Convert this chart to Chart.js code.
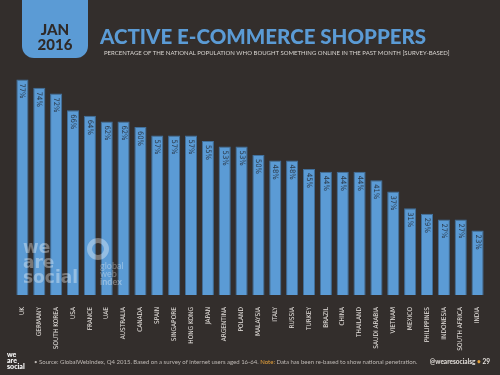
<!DOCTYPE html>
<html>
<head>
<meta charset="utf-8">
<script src="https://cdn.jsdelivr.net/npm/chart.js@4"></script>
<style>
  body { margin: 0; background: #332e2c; }
  #wrap { position: relative; width: 500px; height: 375px; overflow: hidden; background: #332e2c; font-family: "Lato", "DejaVu Sans", sans-serif; }
  #myChart { position: absolute; left: 0; top: 0; }
  .tab { position: absolute; left: 22px; top: -12px; width: 66px; height: 70px; background: #5b9bd5; border-radius: 0 0 12px 12px; }
  .tab div { position: absolute; width: 66px; text-align: center; color: #2f2a28; font-weight: 900; font-size: 15px; line-height: 14px; }
  .title { position: absolute; left: 100px; top: 24px; color: #5b9bd5; font-weight: 900; font-size: 20.5px; letter-spacing: 0; }
  .sub { position: absolute; left: 104px; top: 49px; color: #d8d4d0; font-size: 6px; letter-spacing: 0; }
  .wm { position: absolute; left: 23px; top: 240px; color: rgba(255,255,255,0.35); font-weight: 900; font-size: 17px; line-height: 15px; font-family: "DejaVu Sans", sans-serif; }
  .wm2 { position: absolute; left: 100px; top: 262px; color: rgba(255,255,255,0.35); font-size: 9px; line-height: 8px; }
  .dot { position: absolute; left: 87px; top: 238px; width: 12px; height: 12px; border-radius: 50%; border: 5px solid rgba(255,255,255,0.35); }
  .logo { position: absolute; left: 7px; top: 351px; color: #fff; font-weight: 900; font-size: 7px; line-height: 6px; }
  .src { position: absolute; left: 34px; top: 358px; color: #bdb8b4; font-size: 6px; }
  .src b { color: #e8a33a; font-weight: normal; }
  .page { position: absolute; right: 10px; top: 358px; color: #e6e2de; font-size: 6.5px; font-weight: bold; }
  .page span { color: #e8a33a; }
</style>
</head>
<body>
<div id="wrap">
  <canvas id="myChart" width="500" height="375"></canvas>
  <div class="tab"><div style="top:34px">JAN</div><div style="top:49px">2016</div></div>
  <div class="title">ACTIVE E-COMMERCE SHOPPERS</div>
  <div class="sub">PERCENTAGE OF THE NATIONAL POPULATION WHO BOUGHT SOMETHING ONLINE IN THE PAST MONTH [SURVEY-BASED]</div>
  <div class="wm">we<br>are<br>social</div>
  <div class="dot"></div>
  <div class="wm2">global<br>web<br><b>index</b></div>
  <div class="logo">we<br>are<br>social</div>
  <div class="src">&bull; Source: GlobalWebIndex, Q4 2015. Based on a survey of internet users aged 16-64. <b>Note:</b> Data has been re-based to show national penetration.</div>
  <div class="page">@wearesocialsg <span>&bull;</span> 29</div>
</div>
<script>
/* ACTIVE E-COMMERCE SHOPPERS */

const countries = ["UK", "GERMANY", "SOUTH KOREA", "USA", "FRANCE", "UAE", "AUSTRALIA", "CANADA", "SPAIN", "SINGAPORE",
  "HONG KONG", "JAPAN", "ARGENTINA", "POLAND", "MALAYSIA", "ITALY", "RUSSIA", "TURKEY", "BRAZIL", "CHINA",
  "THAILAND", "SAUDI ARABIA", "VIETNAM", "MEXICO", "PHILIPPINES", "INDONESIA", "SOUTH AFRICA", "INDIA"];
const shoppers = [77, 74, 72, 66, 64, 62, 62, 60, 57, 57,
  57, 55, 53, 53, 50, 48, 48, 45, 44, 44,
  44, 41, 37, 31, 29, 27, 27, 23];

// percentage written inside the top of each bar
const barLabels = {
  id: "barLabels",
  afterDatasetsDraw: function (chart) {
    var ctx = chart.ctx;
    var meta = chart.getDatasetMeta(0);
    ctx.save();
    ctx.fillStyle = "#2a3848";
    ctx.font = "7.5px 'DejaVu Sans Condensed', 'Liberation Sans Narrow', sans-serif";
    ctx.textAlign = "left";
    ctx.textBaseline = "middle";
    for (var i = 0; i < meta.data.length; i++) {
      var bar = meta.data[i];
      ctx.save();
      ctx.translate(bar.x, bar.y + 4);
      ctx.rotate(Math.PI / 2);
      ctx.fillText(shoppers[i] + "%", 0, 0);
      ctx.restore();
    }
    ctx.restore();
  }
};

new Chart("myChart", {
  type: "bar",
  data: {
    labels: countries,
    datasets: [{
      data: shoppers,
      backgroundColor: "#5b9bd5",
      borderColor: "#41709c",
      borderWidth: 1,
      barPercentage: 0.72,
      categoryPercentage: 1
    }]
  },
  options: {
    responsive: false,
    animation: false,
    layout: { padding: { left: 14, right: 14, top: 15, bottom: 0 } },
    plugins: {
      legend: { display: false },
      tooltip: { enabled: false }
    },
    scales: {
      x: {
        grid: { display: false },
        border: { display: false },
        ticks: {
          color: "#e8e4e0",
          font: { family: "'DejaVu Sans Condensed', 'Liberation Sans Narrow', sans-serif", size: 6.5 },
          minRotation: 90,
          maxRotation: 90,
          padding: 4,
          autoSkip: false
        },
        afterFit: function (scale) { scale.height = 80; }
      },
      y: {
        display: false,
        min: 0,
        max: 100
      }
    }
  },
  plugins: [barLabels]
});
</script>
</body>
</html>
